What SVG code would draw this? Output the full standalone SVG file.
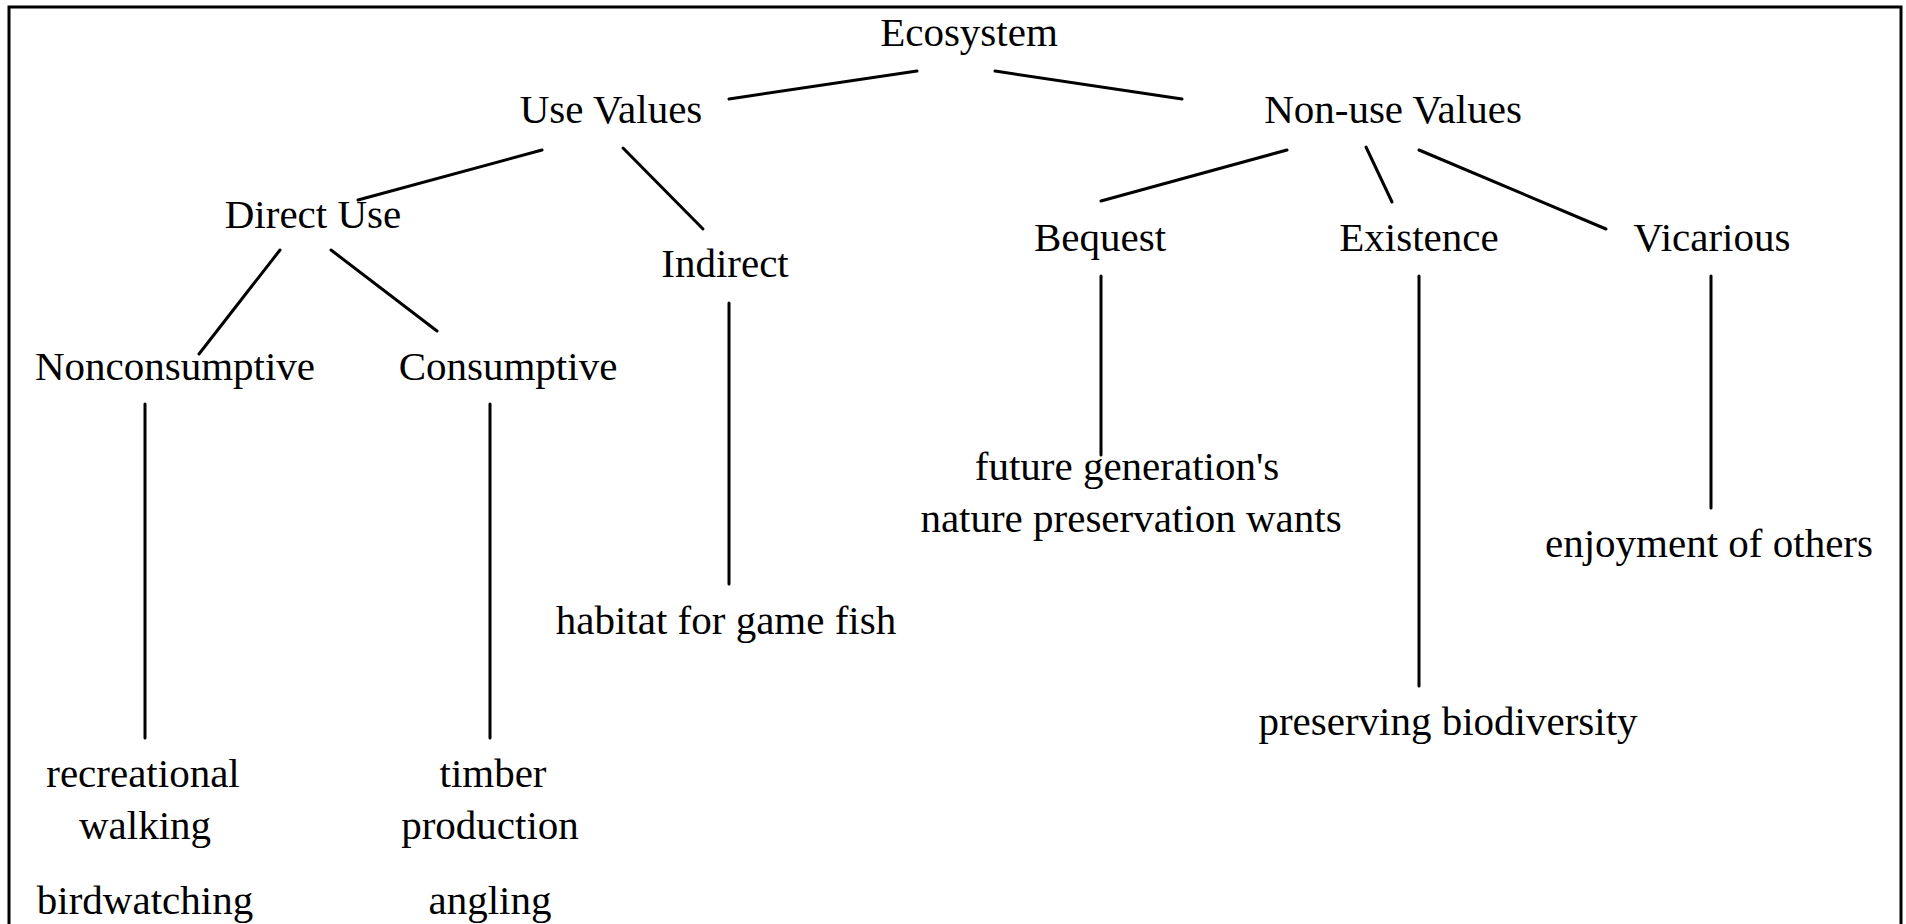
<svg xmlns="http://www.w3.org/2000/svg" width="1906" height="924" viewBox="0 0 1906 924">
<style>
text{font-family:"Liberation Serif","Times New Roman",serif;font-size:41px;fill:#000;text-anchor:middle}
.c line{stroke:#000;stroke-width:3;stroke-linecap:round}
</style>
<rect x="0" y="0" width="1906" height="924" fill="#fff"/>
<rect x="9" y="7" width="1892" height="940" fill="none" stroke="#000" stroke-width="3"/>
<g class="c" id="connectors">
<line x1="729" y1="99" x2="917" y2="71"/>
<line x1="995" y1="71" x2="1182" y2="99"/>
<line x1="542" y1="150" x2="358" y2="200"/>
<line x1="623" y1="148" x2="703" y2="229"/>
<line x1="280" y1="250" x2="199" y2="354"/>
<line x1="331" y1="250" x2="437" y2="331"/>
<line x1="145" y1="404" x2="145" y2="738"/>
<line x1="490" y1="404" x2="490" y2="738"/>
<line x1="729" y1="303" x2="729" y2="584"/>
<line x1="1287" y1="150" x2="1101" y2="201"/>
<line x1="1366" y1="147" x2="1392" y2="202"/>
<line x1="1419" y1="150" x2="1606" y2="229"/>
<line x1="1101" y1="276" x2="1101" y2="455"/>
<line x1="1419" y1="276" x2="1419" y2="686"/>
<line x1="1711" y1="276" x2="1711" y2="508"/>
</g>
<g id="ecosystem"><text x="969" y="46">Ecosystem</text></g>
<g id="use-values"><text x="611" y="123">Use Values</text></g>
<g id="non-use-values"><text x="1393" y="123">Non-use Values</text></g>
<g id="direct-use"><text x="313" y="228">Direct Use</text></g>
<g id="indirect"><text x="725" y="277">Indirect</text></g>
<g id="nonconsumptive"><text x="175" y="380">Nonconsumptive</text></g>
<g id="consumptive"><text x="508" y="380">Consumptive</text></g>
<g id="bequest"><text x="1100" y="251">Bequest</text></g>
<g id="existence"><text x="1419" y="251">Existence</text></g>
<g id="vicarious"><text x="1712" y="251">Vicarious</text></g>
<g id="habitat"><text x="726" y="634">habitat for game fish</text></g>
<g id="nonconsumptive-examples">
<text x="143" y="787">recreational</text>
<text x="145" y="839">walking</text>
<text x="145" y="914">birdwatching</text>
</g>
<g id="consumptive-examples">
<text x="493" y="787">timber</text>
<text x="490" y="839">production</text>
<text x="490" y="914">angling</text>
</g>
<g id="future-generations">
<text x="1127" y="480">future generation's</text>
<text x="1131" y="532">nature preservation wants</text>
</g>
<g id="preserving-biodiversity"><text x="1448" y="735">preserving biodiversity</text></g>
<g id="enjoyment"><text x="1709" y="557">enjoyment of others</text></g>
</svg>
